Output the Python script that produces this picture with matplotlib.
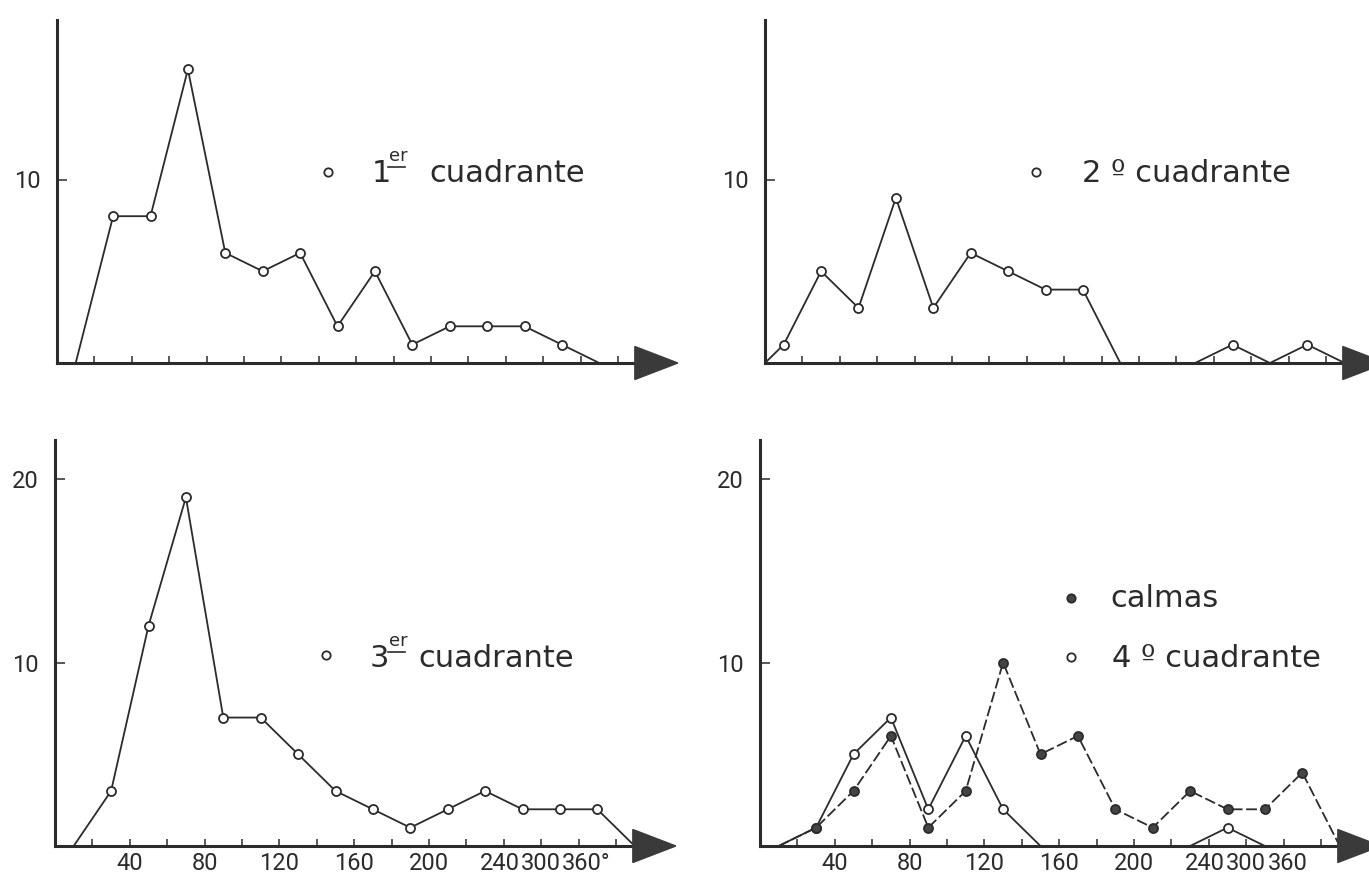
import numpy as np
import matplotlib
matplotlib.use("Agg")
import matplotlib.pyplot as plt
import matplotlib.transforms as mtransforms
from matplotlib.patches import Polygon
from matplotlib.lines import Line2D

W, H = 1369, 883
nan = np.nan

# marcas de clase (centro de cada intervalo de 20)
clase = [0, 10, 30, 50, 70, 90, 110, 130, 150, 170, 190, 210, 230, 250, 270, 290, 310]

q1 = [nan, 0, 8, 8, 16, 6, 5, 6, 2, 5, 1, 2, 2, 2, 1, 0, nan]
q2 = [0, 1, 5, 3, 9, 3, 6, 5, 4, 4, 0, 0, 0, 1, 0, 1, 0]
q3 = [nan, 0, 3, 12, 19, 7, 7, 5, 3, 2, 1, 2, 3, 2, 2, 2, 0]
q4 = [nan, 0, 1, 5, 7, 2, 6, 2, 0, 0, 0, 0, 0, 1, 0, nan, nan]
calmas = [nan, 0, 1, 3, 6, 1, 3, 10, 5, 6, 2, 1, 3, 2, 2, 4, 0]

xticks = [20, 40, 60, 80, 100, 120, 140, 160, 180, 200, 220, 240, 260, 280, 300]
xlab_izq = ["", "40", "", "80", "", "120", "", "160", "", "200", "", "240", "300", "360°", ""]
xlab_der = ["", "40", "", "80", "", "120", "", "160", "", "200", "", "240", "300", "360", ""]

ink = "#2b2b2b"
plt.rcParams["font.family"] = ["DejaVu Sans"]
tickfont = ["Roboto", "DejaVu Sans"]

fig = plt.figure(figsize=(W / 100, H / 100), dpi=100)
XMAX = 332


def desplazar(lab, dx_px):
    off = mtransforms.ScaledTranslation(dx_px / 100, 0, fig.dpi_scale_trans)
    lab.set_transform(lab.get_transform() + off)


def panel(rect, ymax, yticks, xlabels=None, dx360=4):
    ax = fig.add_axes(rect)
    ax.set_xlim(0, XMAX)
    ax.set_ylim(0, ymax)
    ax.patch.set_alpha(0)
    ax.spines["top"].set_visible(False)
    ax.spines["right"].set_visible(False)
    for s in ["left", "bottom"]:
        ax.spines[s].set_linewidth(2.2)
        ax.spines[s].set_color(ink)
    ax.spines["bottom"].set_bounds(0, 315)
    ax.set_xticks(xticks)
    ax.set_xticklabels(xlabels if xlabels else [""] * len(xticks))
    ax.set_yticks(yticks)
    ax.set_yticklabels([str(t) for t in yticks])
    ax.tick_params(axis="x", direction="in", length=5, width=1.1, color=ink,
                   labelsize=17, pad=4, labelcolor=ink)
    ax.tick_params(axis="y", direction="in", length=7, width=1.1, color=ink,
                   labelsize=17, pad=12, labelcolor=ink)
    for lab in ax.get_xticklabels() + ax.get_yticklabels():
        lab.set_family(tickfont)
    labs = ax.get_xticklabels()
    desplazar(labs[11], -4)
    desplazar(labs[13], dx360)
    # flecha del eje x
    ax.add_patch(Polygon([[309, -0.9], [309, 0.9], [332, 0]], closed=True,
                         facecolor="#3a3a3a", edgecolor="#3a3a3a", clip_on=False, zorder=4))
    return ax


def serie(ax, y, filled=False, dashed=False):
    y = np.array(y, dtype=float)
    mask = list(np.nan_to_num(y) > 0)
    ax.plot(clase, y, color=ink, lw=1.3, ls=(0, (6, 2)) if dashed else "-",
            marker="o", markevery=mask, ms=6.5, mew=1.3, mec=ink,
            mfc="#444444" if filled else "white", clip_on=False, zorder=3)


ax1 = panel([57 / W, 1 - 363 / H, XMAX * 1.87 / W, 18.7 * 18.35 / H], 18.7, [10])
ax2 = panel([765 / W, 1 - 363 / H, XMAX * 1.87 / W, 18.7 * 18.35 / H], 18.7, [10])
ax3 = panel([55 / W, 1 - 846 / H, XMAX * 1.87 / W, 22.1 * 18.35 / H], 22.1, [10, 20], xlab_izq, dx360=8)
ax4 = panel([760 / W, 1 - 846 / H, XMAX * 1.87 / W, 22.1 * 18.35 / H], 22.1, [10, 20], xlab_der)

serie(ax1, q1)
serie(ax2, q2)
serie(ax3, q3)
serie(ax4, q4)
serie(ax4, calmas, filled=True, dashed=True)


# leyendas (en pixeles de la figura)
def fx(x):
    return x / W


def fy(y):
    return 1 - y / H


def punto(x, y, filled=False):
    fig.add_artist(Line2D([fx(x)], [fy(y)], marker="o", ms=6, mew=1.3, mec=ink,
                          mfc="#444444" if filled else "white", transform=fig.transFigure))


def texto(x, y, s, size=22):
    fig.text(fx(x), fy(y), s, fontsize=size, color=ink, va="baseline", ha="left")


def raya(x0, x1, y):
    fig.add_artist(Line2D([fx(x0), fx(x1)], [fy(y), fy(y)], lw=1.2, color=ink,
                          transform=fig.transFigure))


punto(328, 172)
texto(372, 182, "1")
texto(389, 161, "er", 13)
raya(388, 405, 167)
texto(429, 182, "cuadrante")

punto(1036, 172)
texto(1082, 182, "2 º cuadrante")

punto(326, 655)
texto(370, 667, "3")
texto(389, 646, "er", 13)
raya(388, 405, 652)
texto(418, 667, "cuadrante")

punto(1071, 598, filled=True)
texto(1110, 607, "calmas")
punto(1071, 657)
texto(1112, 667, "4 º cuadrante")

fig.savefig("out.png", dpi=100, facecolor="white")
